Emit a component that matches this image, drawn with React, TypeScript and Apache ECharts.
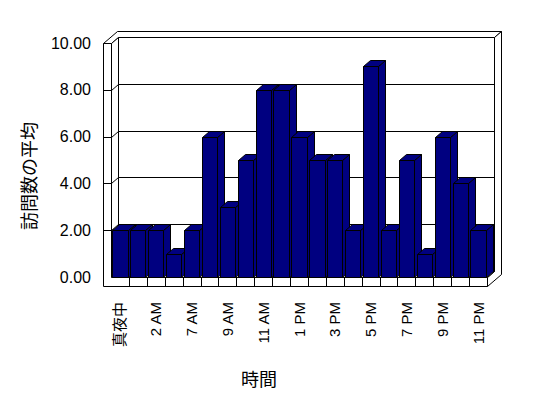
import React, { useEffect, useRef } from 'react';
import * as echarts from 'echarts';

const categories = ['真夜中', '1 AM', '2 AM', '6 AM', '7 AM', '8 AM', '9 AM', '10 AM', '11 AM', '12 PM', '1 PM', '2 PM', '3 PM', '4 PM', '5 PM', '6 PM', '7 PM', '8 PM', '9 PM', '10 PM', '11 PM'];
const visits = [2, 2, 2, 1, 2, 6, 3, 5, 8, 8, 6, 5, 5, 2, 9, 2, 5, 1, 6, 4, 2];
const yTicks = [0, 2, 4, 6, 8, 10];
const yTitle = '訪問数の平均';
const xTitle = '時間';

const NAVY = '#000080';
const DX = 7;
const DY = -6;
const WALL = 8;
const FLOOR = 9;
const LATIN = "'Liberation Sans', 'Noto Sans CJK JP', sans-serif";
const CJK = "'Noto Sans CJK JP', sans-serif";

const px = (v: number) => Math.round(v) + 0.5;

function renderFrame(_params: any, api: any) {
  const band = api.size([1, 0])[0];
  const xL = api.coord([0, 0])[0] - band / 2;
  const xR = api.coord([categories.length - 1, 0])[0] + band / 2;
  const yB = api.coord([0, yTicks[0]])[1];
  const yT = api.coord([0, yTicks[yTicks.length - 1]])[1];
  const L = px(xL), R = px(xR), B = px(yB), T = px(yT);
  const st = { fill: '#fff', stroke: '#000', lineWidth: 1 };
  const ln = { fill: 'none', stroke: '#000', lineWidth: 1 };
  const children: any[] = [];
  children.push({ type: 'polygon', shape: { points: [[L - WALL, T], [L - WALL + 2 * DX, T + 2 * DY], [R + 2 * DX, T + 2 * DY], [R + DX, T + DY], [L + DX, T + DY], [L, T]] }, style: st });
  children.push({ type: 'polygon', shape: { points: [[R, B], [R + DX, B + DY], [R + DX, T + DY], [R + 2 * DX, T + 2 * DY], [R + 2 * DX, B + FLOOR + 2 * DY], [R, B + FLOOR]] }, style: st });
  children.push({ type: 'polygon', shape: { points: [[L + DX, T + DY], [R + DX, T + DY], [R + DX, B + DY], [L + DX, B + DY]] }, style: st });
  children.push({ type: 'polygon', shape: { points: [[L, T], [L + DX, T + DY], [L + DX, B + DY], [L, B]] }, style: st });
  children.push({ type: 'polygon', shape: { points: [[L, B], [R, B], [R + DX, B + DY], [L + DX, B + DY]] }, style: st });
  children.push({ type: 'polygon', shape: { points: [[L - WALL, T], [L, T], [L, B], [R, B], [R, B + FLOOR], [L - WALL, B + FLOOR]] }, style: st });
  yTicks.slice(1, -1).forEach((v) => {
    const y = px(api.coord([0, v])[1]);
    children.push({ type: 'polyline', shape: { points: [[L - WALL, y], [L, y], [L + DX, y + DY], [R + DX, y + DY]] }, style: ln });
  });
  for (let k = 1; k < categories.length; k++) {
    const x = px(xL + k * band);
    children.push({ type: 'line', shape: { x1: x, y1: B, x2: x, y2: B + FLOOR }, style: ln });
  }
  return { type: 'group', children };
}

function renderBar(_params: any, api: any) {
  const i = api.value(0);
  const v = api.value(1);
  const band = api.size([1, 0])[0];
  const top = api.coord([i, v]);
  const base = api.coord([i, 0]);
  const w = band * 0.85;
  const x0 = px(top[0] - w / 2), x1 = px(top[0] + w / 2), t = px(top[1]), b = px(base[1]);
  const st = { fill: NAVY, stroke: '#000', lineWidth: 1 };
  return {
    type: 'group',
    children: [
      { type: 'polygon', shape: { points: [[x1, b], [x1 + DX, b + DY], [x1 + DX, t + DY], [x1, t]] }, style: st },
      { type: 'polygon', shape: { points: [[x0, t], [x1, t], [x1 + DX, t + DY], [x0 + DX, t + DY]] }, style: st },
      { type: 'polygon', shape: { points: [[x0, t], [x1, t], [x1, b], [x0, b]] }, style: st },
    ],
  };
}

export default function App() {
  const ref = useRef<HTMLDivElement>(null);
  useEffect(() => {
    if (!ref.current) return;
    const chart = echarts.init(ref.current, null, { renderer: 'svg' });
    chart.setOption({
      animation: false,
      backgroundColor: '#fff',
      grid: { left: 111, right: 61, top: 43, bottom: 121 },
      xAxis: {
        type: 'category',
        data: categories,
        axisLine: { show: false },
        axisTick: { show: false },
        splitLine: { show: false },
        axisLabel: {
          interval: 1,
          rotate: 90,
          margin: 25,
          color: '#000',
          fontSize: 15,
          fontFamily: LATIN,
        },
      },
      yAxis: {
        type: 'value',
        min: yTicks[0],
        max: yTicks[yTicks.length - 1],
        interval: 2,
        axisLine: { show: false },
        axisTick: { show: false },
        splitLine: { show: false },
        axisLabel: {
          margin: 20,
          color: '#000',
          fontSize: 16,
          fontFamily: LATIN,
          formatter: (v: number) => v.toFixed(2),
        },
      },
      graphic: [
        { type: 'text', x: 259, y: 378, style: { text: xTitle, font: `18px ${CJK}`, fill: '#000', align: 'center', verticalAlign: 'middle' } },
        { type: 'text', x: 28, y: 176, rotation: Math.PI / 2, style: { text: yTitle, font: `18px ${CJK}`, fill: '#000', align: 'center', verticalAlign: 'middle' } },
      ],
      series: [
        { type: 'custom', z: 1, renderItem: renderFrame, data: [[0, 0]], encode: { x: 0, y: 1 }, silent: true },
        { type: 'custom', z: 2, renderItem: renderBar, data: visits.map((v, i) => [i, v]), encode: { x: 0, y: 1 } },
      ],
    });
    return () => chart.dispose();
  }, []);
  return <div ref={ref} style={{ position: 'fixed', left: 0, top: 0, width: 548, height: 398 }} />;
}
